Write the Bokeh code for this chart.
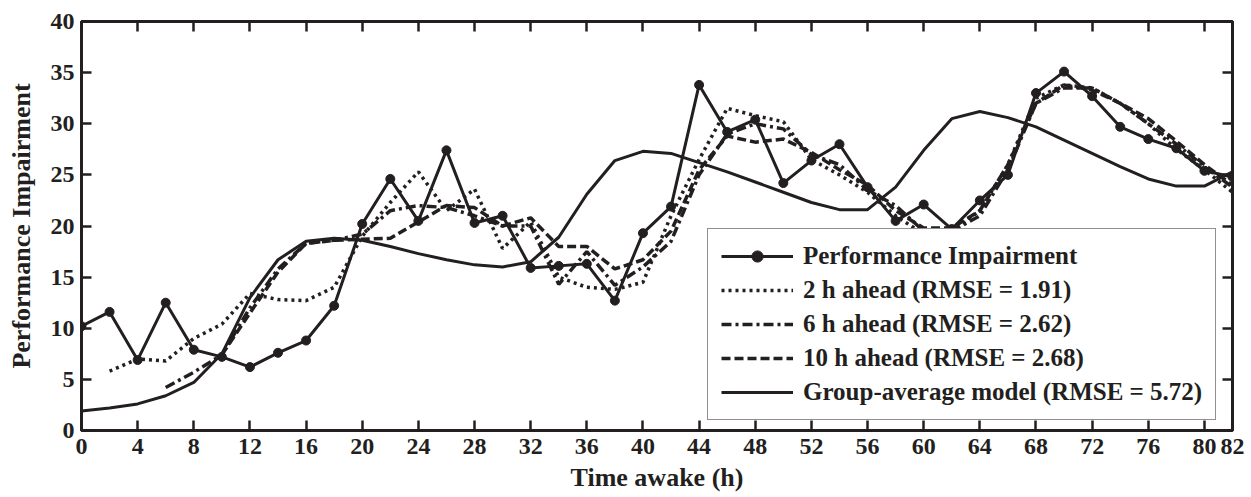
from bokeh.plotting import figure
from bokeh.models import Range1d, FixedTicker, LinearAxis, Legend, LegendItem
from bokeh.embed import file_html
from bokeh.resources import INLINE

# Hours awake (2 h sampling)
hours = list(range(0, 84, 2))

# Observed performance impairment
impairment = [10.2, 11.6, 6.9, 12.5, 7.9, 7.2, 6.2, 7.6, 8.8, 12.2,
              20.2, 24.6, 20.5, 27.4, 20.3, 21.0, 15.9, 16.1, 16.3, 12.7,
              19.3, 21.9, 33.8, 29.2, 30.4, 24.2, 26.4, 28.0, 23.8, 20.5,
              22.1, 19.7, 22.5, 25.0, 33.0, 35.1, 32.7, 29.7, 28.5, 27.6,
              25.4, 24.8]

# Group-average model prediction
group_avg = [1.9, 2.2, 2.6, 3.4, 4.7, 7.5, 13.0, 16.7, 18.5, 18.8,
             18.6, 18.0, 17.3, 16.7, 16.2, 16.0, 16.5, 18.9, 23.1, 26.4,
             27.3, 27.1, 26.2, 25.3, 24.3, 23.3, 22.3, 21.6, 21.6, 23.8,
             27.4, 30.5, 31.2, 30.6, 29.7, 28.4, 27.1, 25.8, 24.6, 23.9,
             23.9, 25.3]

# 2 h ahead forecast
hours_2h = list(range(2, 84, 2))
ahead_2h = [5.8, 7.0, 6.8, 9.0, 10.4, 13.4, 12.8, 12.7, 14.0,
            19.0, 22.3, 25.3, 21.5, 23.6, 17.8, 20.4, 15.0, 14.0, 13.8,
            14.5, 21.0, 26.5, 31.5, 30.8, 30.2, 26.5, 25.0, 23.3, 21.0,
            19.2, 19.5, 21.5, 26.0, 32.5, 33.8, 33.5, 32.0, 30.0, 27.5,
            25.5, 23.3]

# 6 h ahead forecast
hours_6h = list(range(6, 84, 2))
ahead_6h = [4.2, 5.7, 7.4, 12.0, 15.8, 18.3, 18.6,
            19.2, 21.5, 22.0, 21.8, 21.0, 20.0, 20.0, 14.3, 17.5, 14.2,
            16.0, 18.5, 25.0, 29.0, 30.0, 29.5, 27.0, 26.0, 23.5, 22.0,
            19.5, 19.5, 21.0, 25.5, 32.0, 33.5, 33.5, 32.0, 30.0, 28.0,
            25.8, 23.8]

# 10 h ahead forecast
hours_10h = list(range(10, 84, 2))
ahead_10h = [7.4, 11.5, 15.5, 18.3, 18.6,
             18.7, 18.8, 20.4, 22.0, 21.8, 20.0, 20.8, 18.0, 18.0, 15.8,
             16.7, 19.5, 25.5, 28.8, 28.2, 28.5, 27.2, 25.5, 24.0, 21.5,
             19.8, 19.8, 21.5, 26.0, 32.0, 33.8, 33.3, 32.0, 30.5, 28.3,
             26.0, 24.0]

x_ticks = list(range(0, 84, 4)) + [82]
y_ticks = list(range(0, 45, 5))

INK = "#231f20"
FONT = "Liberation Serif"

p = figure(width=1251, height=497, output_backend="svg", toolbar_location=None,
           x_range=Range1d(0, 82), y_range=Range1d(0, 40),
           min_border_left=81, min_border_right=19, min_border_top=21,
           min_border_bottom=67)
p.background_fill_color = "white"
p.border_fill_color = "white"
p.grid.visible = False
p.outline_line_color = INK
p.outline_line_width = 3

for ax in (p.xaxis[0], p.yaxis[0]):
    ax.axis_line_color = None
    ax.major_tick_in = 10
    ax.major_tick_out = 0
    ax.major_tick_line_width = 2.5
    ax.major_tick_line_color = INK
    ax.minor_tick_line_color = None
    ax.major_label_text_font = FONT
    ax.major_label_text_font_style = "bold"
    ax.major_label_text_font_size = "24px"
    ax.major_label_text_color = INK
    ax.axis_label_text_font = FONT
    ax.axis_label_text_font_style = "bold"
    ax.axis_label_text_font_size = "26px"
    ax.axis_label_text_color = INK

p.xaxis[0].ticker = FixedTicker(ticks=x_ticks)
p.yaxis[0].ticker = FixedTicker(ticks=y_ticks)
p.xaxis[0].axis_label = "Time awake (h)"
p.yaxis[0].axis_label = "Performance Impairment"
p.xaxis[0].major_label_standoff = 8
p.yaxis[0].major_label_standoff = 7
p.xaxis[0].axis_label_standoff = 6
p.yaxis[0].axis_label_standoff = 12

# mirrored tick marks on the top and right edges
for side, ticks in (("above", x_ticks), ("right", y_ticks)):
    ax = LinearAxis(ticker=FixedTicker(ticks=ticks))
    ax.axis_line_color = None
    ax.major_tick_in = 10
    ax.major_tick_out = 0
    ax.major_tick_line_width = 2.5
    ax.major_tick_line_color = INK
    ax.minor_tick_line_color = None
    ax.major_label_text_color = None
    ax.major_label_text_font_size = "1px"
    ax.major_label_standoff = 0
    p.add_layout(ax, side)

r_obs_line = p.line(hours, impairment, line_color=INK, line_width=3)
r_obs_pts = p.scatter(hours, impairment, size=9, marker="circle",
                      fill_color=INK, line_color=INK, line_width=1)
r_2h = p.line(hours_2h, ahead_2h, line_color=INK, line_width=3.5,
              line_dash="3 4")
r_6h = p.line(hours_6h, ahead_6h, line_color=INK, line_width=3.5,
              line_dash="10 4 3 4")
r_10h = p.line(hours_10h, ahead_10h, line_color=INK, line_width=3.5,
               line_dash="9 4")
r_grp = p.line(hours, group_avg, line_color=INK, line_width=3)

legend = Legend(items=[
    LegendItem(label="Performance Impairment", renderers=[r_obs_line, r_obs_pts]),
    LegendItem(label="2 h ahead (RMSE = 1.91)", renderers=[r_2h]),
    LegendItem(label="6 h ahead (RMSE = 2.62)", renderers=[r_6h]),
    LegendItem(label="10 h ahead (RMSE = 2.68)", renderers=[r_10h]),
    LegendItem(label="Group-average model (RMSE = 5.72)", renderers=[r_grp]),
], location=(626, 10))
legend.label_text_font = FONT
legend.label_text_font_style = "bold"
legend.label_text_font_size = "25px"
legend.label_text_color = INK
legend.glyph_width = 72
legend.glyph_height = 28
legend.label_height = 28
legend.label_standoff = 10
legend.padding = 13
legend.spacing = 6
legend.margin = 0
legend.border_line_color = INK
legend.border_line_width = 1.5
legend.background_fill_color = "white"
legend.background_fill_alpha = 1
p.add_layout(legend, "center")

open("out.html", "w").write(file_html(p, INLINE))
